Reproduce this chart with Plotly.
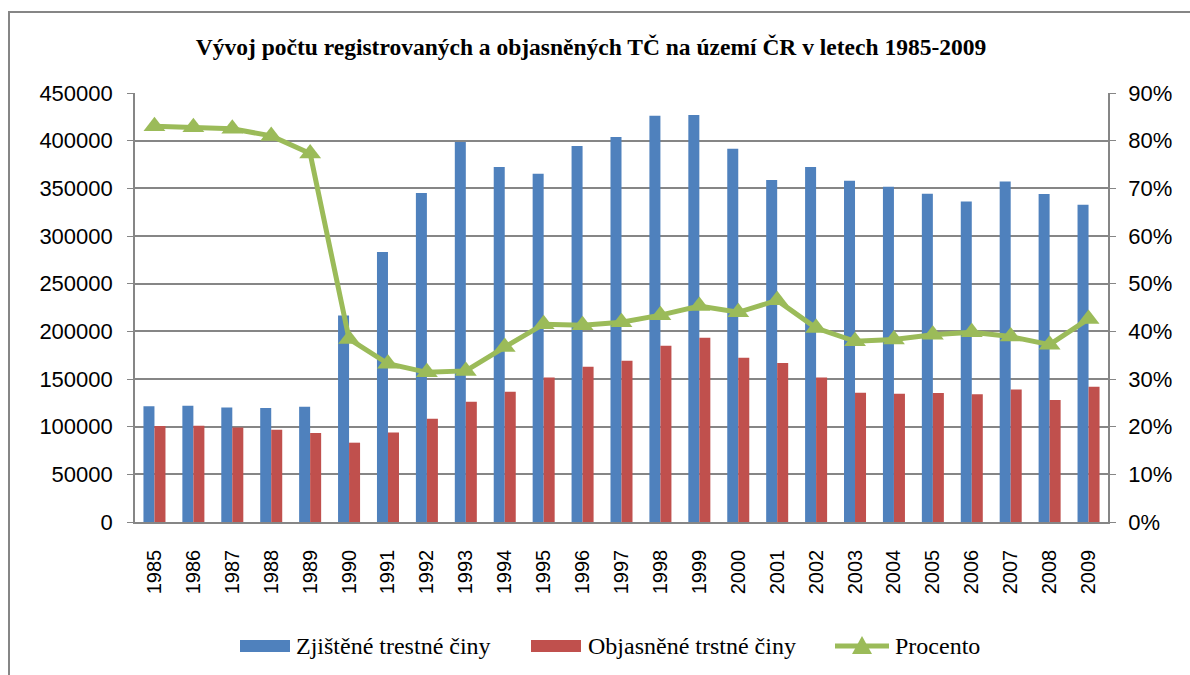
import plotly.graph_objects as go

years = [str(y) for y in range(1985, 2010)]
zjistene = [121300, 122000, 120200, 119600, 120900, 216700, 283200, 345100, 398600, 372400,
            365300, 394400, 403800, 426200, 426900, 391500, 358700, 372300, 358000, 351700,
            344300, 336300, 357200, 344000, 332800]
objasnene = [100700, 101000, 99200, 96800, 93300, 83200, 94000, 108300, 126200, 136700,
             151700, 162900, 169200, 184900, 193300, 172300, 166800, 151700, 135600, 134600,
             135300, 133900, 139100, 128000, 141900]
procento = [0.830, 0.828, 0.825, 0.810, 0.773, 0.384, 0.332, 0.314, 0.317, 0.367,
            0.415, 0.413, 0.419, 0.434, 0.453, 0.440, 0.465, 0.407, 0.379, 0.383,
            0.393, 0.398, 0.389, 0.372, 0.426]

title_text = "Vývoj počtu registrovaných a objasněných TČ na území ČR v letech 1985-2009"
names = ["Zjištěné trestné činy", "Objasněné trstné činy", "Procento"]

BLUE = "#4F81BD"
RED = "#C0504D"
GREEN = "#9BBB59"
GRID = "#868686"
TICKFONT = dict(family="Liberation Sans", size=22, color="#000000")
LEGFONT = dict(family="Liberation Serif", size=24, color="#000000")

fig = go.Figure()
fig.add_trace(go.Bar(x=years, y=zjistene, name=names[0], marker=dict(color=BLUE, line=dict(width=0))))
fig.add_trace(go.Bar(x=years, y=objasnene, name=names[1], marker=dict(color=RED, line=dict(width=0))))
fig.add_trace(go.Scatter(x=years, y=procento, name=names[2], yaxis="y2", mode="lines+markers",
                         line=dict(color=GREEN, width=5),
                         marker=dict(symbol="triangle-up", size=19, color=GREEN)))

L, R, T, B = 135, 1108, 93, 522
W, H = 1190, 675
pw, ph = R - L, B - T


def px(x):
    return (x - L) / pw


def py(y):
    return (B - y) / ph


shapes = [dict(type="rect", xref="paper", yref="paper",
               x0=px(9), x1=px(W + 20), y0=py(H + 20), y1=py(12),
               line=dict(color=GRID, width=2), fillcolor="rgba(0,0,0,0)", layer="below")]
annotations = []

# manual legend (Excel style)
LY = 646
shapes.append(dict(type="rect", xref="paper", yref="paper", x0=px(240), x1=px(290),
                   y0=py(LY + 6), y1=py(LY - 6), fillcolor=BLUE, line=dict(width=0)))
shapes.append(dict(type="rect", xref="paper", yref="paper", x0=px(531), x1=px(581),
                   y0=py(LY + 6), y1=py(LY - 6), fillcolor=RED, line=dict(width=0)))
shapes.append(dict(type="line", xref="paper", yref="paper", x0=px(835), x1=px(889),
                   y0=py(LY), y1=py(LY), line=dict(color=GREEN, width=5)))
shapes.append(dict(type="path", xref="paper", yref="paper",
                   path="M {} {} L {} {} L {} {} Z".format(px(852), py(LY + 8), px(872), py(LY + 8),
                                                         px(862), py(LY - 10)),
                   fillcolor=GREEN, line=dict(width=0)))
for name, xl in zip(names, [294, 586, 893]):
    annotations.append(dict(text=name, xref="paper", yref="paper", x=px(xl), y=py(LY),
                            xanchor="left", yanchor="middle", showarrow=False, font=LEGFONT))

fig.update_layout(
    width=W, height=H,
    margin=dict(l=L, r=W - R, t=T, b=H - B, pad=0),
    paper_bgcolor="white", plot_bgcolor="white",
    barmode="group", bargap=0.434, bargroupgap=0,
    showlegend=False,
    title=dict(text="<b>" + title_text + "</b>", x=591 / W, xanchor="center",
               y=1 - 47 / H, yanchor="middle",
               font=dict(family="Liberation Serif", size=23.5, color="#000000")),
    xaxis=dict(type="category", range=[-0.5, 24.5], showgrid=False, showline=True,
               linecolor=GRID, linewidth=1.6,
               ticks="", tickangle=-90, tickfont=dict(family="Liberation Sans", size=20, color="#000"),
               ticklabelstandoff=18),
    yaxis=dict(range=[0, 450000], dtick=50000, showgrid=True, gridcolor=GRID, gridwidth=1.6,
               showline=True, linecolor=GRID, linewidth=1.6, ticks="outside", ticklen=6,
               tickcolor=GRID, tickfont=TICKFONT, tickformat="d", ticklabelstandoff=10,
               zeroline=False),
    yaxis2=dict(range=[0, 0.9], dtick=0.1, overlaying="y", side="right", showgrid=False,
                showline=True, linecolor=GRID, linewidth=1.6, ticks="outside", ticklen=6,
                tickcolor=GRID, tickfont=TICKFONT, tickformat=".0%", ticklabelstandoff=8,
                zeroline=False),
    shapes=shapes,
    annotations=annotations,
)

fig.write_html("out.html", post_script="document.body.style.margin='0';",
               config={"displayModeBar": False})
